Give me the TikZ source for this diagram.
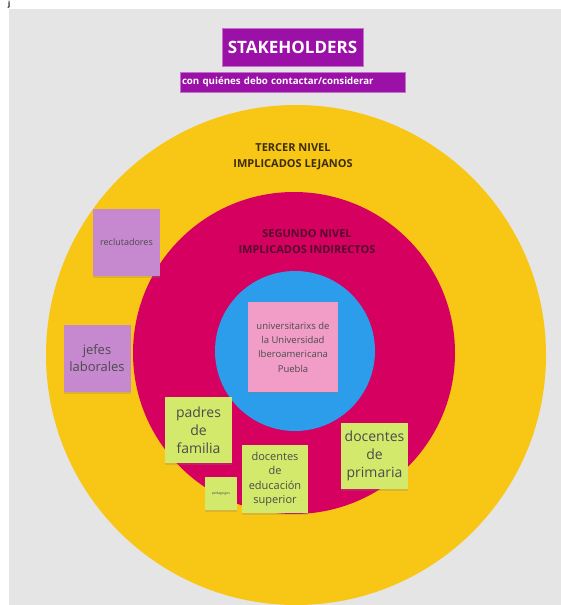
\documentclass[tikz,border=0pt]{standalone}
\usepackage{fontspec}
\setmainfont{Open Sans}
\usetikzlibrary{shadows}
\definecolor{fondo}{RGB}{229,229,229}
\definecolor{amarillo}{RGB}{248,198,20}
\definecolor{magenta}{RGB}{213,0,95}
\definecolor{azul}{RGB}{44,157,235}
\definecolor{morado}{RGB}{155,17,168}
\definecolor{lila}{RGB}{198,137,208}
\definecolor{rosa}{RGB}{241,157,200}
\definecolor{verde}{RGB}{210,233,108}
\definecolor{textonota}{RGB}{75,75,75}
\definecolor{cafe}{RGB}{60,45,10}
\definecolor{vino}{RGB}{85,10,45}
\begin{document}
\begin{tikzpicture}[x=1pt,y=-1pt,
  anillo/.style={circle,inner sep=0pt},
  nivel/.style={align=center,font=\bfseries\fontsize{11}{16}\selectfont},
  nota/.style={minimum width=67pt,minimum height=67pt,inner sep=1pt,align=center,
    text=textonota,drop shadow={shadow xshift=0pt,shadow yshift=-2pt,opacity=0.25}}]
\useasboundingbox (0,0) rectangle (561,605);
%\draw [lightgray](0,0) grid [step=50] (561,605);
\fill [fondo](9,9) rectangle (561,605);
\node (letra) [anchor=north west,inner sep=0pt,font=\bfseries\fontsize{7}{7}\selectfont] at (8,0.5){j};

% titulo
\node (titulo) [fill=morado,draw=morado!60!white,line width=0.6pt,minimum width=141pt,minimum height=38pt,
  text=white,font=\bfseries\fontsize{17}{20}\selectfont] at (292.5,47){STAKEHOLDERS};
\node (subtitulo) [fill=morado,draw=morado!60!white,line width=0.6pt,inner xsep=2pt,text width=221pt,
  minimum height=20pt,align=left,text=white,font=\bfseries\fontsize{9.7}{11}\selectfont] at (292.5,82)
  {con quiénes debo contactar/considerar};

% anillos
\node (tercer) [anillo,fill=amarillo,minimum size=500pt] at (296,355){};
\node (segundo) [anillo,fill=magenta,minimum size=322pt] at (294,353){};
\node (primero) [anillo,fill=azul,minimum size=160pt] at (295,351){};

\node (nivel3) [nivel,text=cafe] at (293,157){TERCER NIVEL\\IMPLICADOS LEJANOS};
\node (nivel2) [nivel,text=vino] at (307,242){SEGUNDO NIVEL\\IMPLICADOS INDIRECTOS};

% notas
\node (reclutadores) [nota,fill=lila,font=\fontsize{9}{12}\selectfont] at (126.5,242.5){reclutadores};
\node (jefes) [nota,fill=lila,font=\fontsize{13}{17}\selectfont] at (97,358.5){jefes\\laborales};
\node (universitarios) [nota,fill=rosa,minimum width=90pt,minimum height=90pt,
  font=\fontsize{9.5}{14.3}\selectfont] at (293,347){universitarixs de\\la Universidad\\Iberoamericana\\Puebla};
\node (padres) [nota,fill=verde,minimum height=66pt,font=\fontsize{14}{18}\selectfont] at (198.5,430){padres\\de\\familia};
\node (primaria) [nota,fill=verde,minimum height=66pt,font=\fontsize{14}{18}\selectfont] at (374.5,456){docentes\\de\\primaria};
\node (superior) [nota,fill=verde,minimum width=66pt,minimum height=68pt,
  font=\fontsize{11}{14.3}\selectfont] at (275,479){docentes\\de\\educación\\superior};
\node (pedagogos) [nota,fill=verde,minimum width=32pt,minimum height=33pt,
  font=\fontsize{3.5}{4}\selectfont] at (221,493.5){pedagogos};
\end{tikzpicture}
\end{document}
